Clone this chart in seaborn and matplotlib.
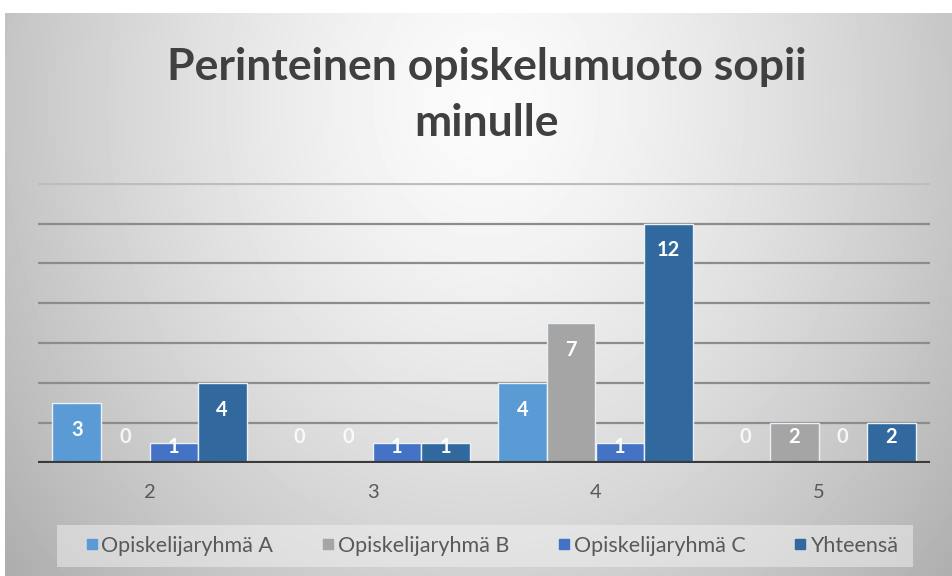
import matplotlib
matplotlib.use('Agg')
import matplotlib.pyplot as plt
from matplotlib.lines import Line2D
from matplotlib.patches import Rectangle
import numpy as np
import pandas as pd
import seaborn as sns

# Data
categories = ['2', '3', '4', '5']
series = ['Opiskelijaryhmä A', 'Opiskelijaryhmä B', 'Opiskelijaryhmä C', 'Yhteensä']
ryhma_a = [3, 0, 4, 0]
ryhma_b = [0, 0, 7, 2]
ryhma_c = [1, 1, 1, 0]
yhteensa = [4, 1, 12, 2]
title = 'Perinteinen opiskelumuoto sopii\nminulle'

values = [ryhma_a, ryhma_b, ryhma_c, yhteensa]
colors = ['#5B9BD5', '#A5A5A5', '#4472C4', '#31699E']

df = pd.DataFrame({
    'arvo': categories * len(series),
    'ryhmä': [s for s in series for _ in categories],
    'lkm': [v for vals in values for v in vals],
})

sns.set_style('white')
plt.rcParams['font.family'] = ['Lato', 'DejaVu Sans']

W, H = 952, 576
fig = plt.figure(figsize=(W / 100, H / 100), dpi=100)

# gray radial background like the Excel chart area
bg = fig.add_axes([5 / W, 0, 1 - 5 / W, (H - 13) / H], zorder=-1)
yy, xx = np.mgrid[0:563, 0:947]
dx = (xx - 480) / 473
dy = (yy - 90) / 563
r = np.sqrt(dx ** 2 + dy ** 2)
shade = np.clip(0.985 - 0.21 * r ** 1.4, 0, 1)
bg.imshow(shade, cmap='gray', vmin=0, vmax=1, aspect='auto', interpolation='bilinear')
bg.axis('off')

ax = fig.add_axes([38 / W, 1 - 463 / H, (930 - 38) / W, (463 - 183) / H])
ax.patch.set_alpha(0)

sns.barplot(data=df, x='arvo', y='lkm', hue='ryhmä', order=categories, hue_order=series,
            palette=colors, width=0.87, edgecolor='#e9f0f8', linewidth=1, legend=False,
            saturation=1, ax=ax)

ax.set_ylim(0, 14.03)
ax.set_xlim(-0.5, 3.5)
ax.set_yticks(range(0, 15, 2))
ax.set_yticklabels([])
ax.set_xlabel('')
ax.set_ylabel('')
ax.tick_params(axis='y', length=0)
ax.tick_params(axis='x', length=0, pad=15, labelsize=14.5, labelcolor='#595959')
sns.despine(ax=ax, left=True, bottom=True)
ax.set_axisbelow(True)
ax.yaxis.grid(True, color='#8c8c8c', linewidth=1.6)
ax.yaxis.get_gridlines()[-1].set_color('#bdbdbd')
ax.axhline(0, color='#3a3a3a', linewidth=3, zorder=4)

# data labels (inside end, as in Excel)
def label_y(v):
    if v > 2.5:
        return v - 1.35
    if v > 0:
        return v / 2 + 0.3
    return 1.3

for cont, vals in zip(ax.containers, values):
    for bar, v in zip(cont, vals):
        x = bar.get_x() + bar.get_width() / 2
        ax.text(x, label_y(v), str(v), ha='center', va='center', color='white',
                fontsize=14.5, fontweight='bold', alpha=1 if v > 0 else 0.85, zorder=5)

fig.text(487 / W, 1 - 47 / H, title, ha='center', va='top', fontsize=32,
         fontweight='bold', color='#404040', linespacing=1.5)

# legend box
fig.patches.append(Rectangle((57 / W, 1 - 567 / H), (913 - 57) / W, 42 / H,
                             transform=fig.transFigure, facecolor='#f2f2f2',
                             alpha=0.5, edgecolor='none', zorder=0))
handles = [Line2D([], [], marker='s', linestyle='', markersize=7, color=c) for c in colors]
leg = fig.legend(handles, series, loc='center', ncol=4, frameon=False,
                 bbox_to_anchor=(491 / W, 1 - 546 / H), fontsize=15.5,
                 handletextpad=0.1, handlelength=0.7, columnspacing=2.2,
                 labelcolor='#595959')

fig.savefig('out.png', dpi=100)
